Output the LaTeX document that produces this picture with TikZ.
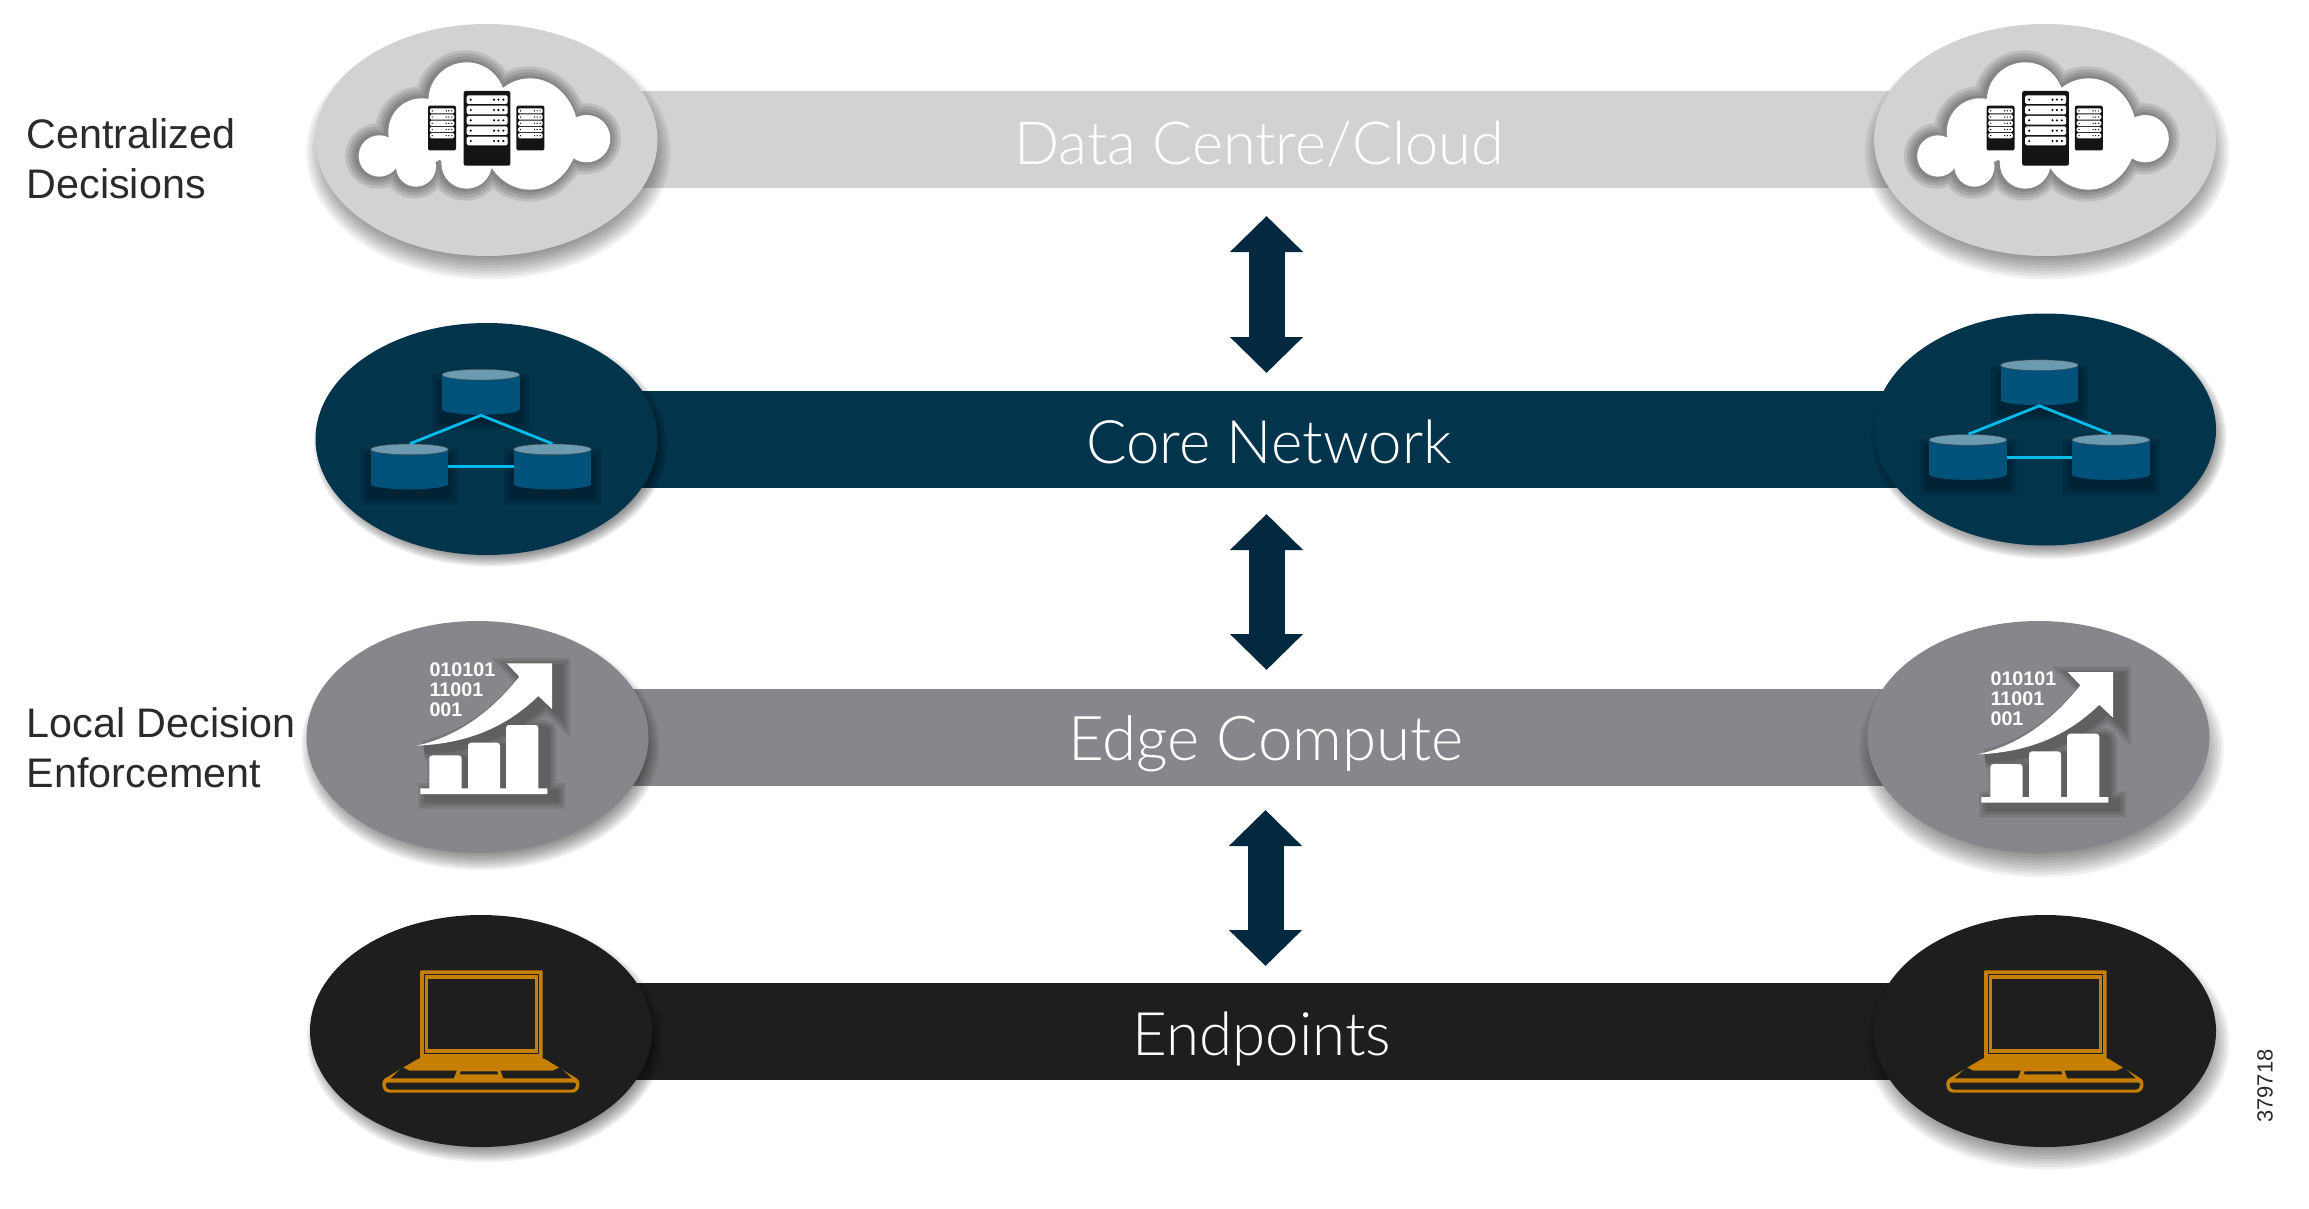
\documentclass[tikz,border=0pt]{standalone}
\usepackage{fontspec}
\setmainfont{Liberation Sans}
\newfontfamily\thinfont{Lato Light}
\usetikzlibrary{shapes.geometric,arrows.meta}
\definecolor{datagray}{HTML}{D2D2D2}
\definecolor{coreblue}{HTML}{02344C}
\definecolor{edgegray}{HTML}{87878B}
\definecolor{endblack}{HTML}{1E1E1E}
\definecolor{arrowblue}{HTML}{02293F}
\definecolor{dbbody}{HTML}{00527A}
\definecolor{dbtop}{HTML}{6B9AB1}
\definecolor{dblink}{HTML}{00BCEB}
\definecolor{laptoporange}{HTML}{C67F00}
\definecolor{labelblack}{HTML}{2A2A2A}

\newcommand{\lobeblur}[4]{\foreach \i in {1,...,9}{
    \pgfmathsetmacro\grow{#4*(1-2*\i/10)}
    \fill[black, opacity=.06] ([shift={(#2,#3)}]#1) ellipse [x radius={171+\grow}, y radius={116+\grow}];}}
\newcommand{\blurpath}[3]{\foreach \w in {#2}{
    \begin{scope}[transparency group, opacity=.1]
      \path[fill=black, draw=black, line width=\w pt, shift={#3}] #1;
    \end{scope}}}
\newcommand{\cloudshape}{(268,468) circle (62) (378,500) circle (60) (395,395) circle (100)
  (530,302) circle (115) (720,402) ellipse [x radius=145, y radius=167] (890,416) circle (71)
  (530,490) circle (76) (540,400) circle (120)}
\newcommand{\chartshape}{(391,535) rectangle (772,552)
  [rounded corners=3pt] (418,536) -- (418,436) -- (515,436) -- (515,536)
  (534,536) -- (534,398) -- (630,398) -- (630,536)
  (648,536) -- (648,345) -- (745,345) -- (745,536) [sharp corners]
  (380,407) .. controls (550,400) and (660,340) .. (745,258) -- (786,297) -- (786,160)
  -- (650,160) -- (688,200) .. controls (600,310) and (500,380) .. (380,407) -- cycle}

\tikzset{
  lobe/.style={ellipse, minimum width=342pt, minimum height=232pt, inner sep=0pt},
  band/.style={line width=97pt},
  bandtext/.style={anchor=base, text=white, font=\thinfont\fontsize{#1}{60}\selectfont},
  bandtext/.default=60,
  sidetext/.style={anchor=north west, inner sep=0pt, align=left, text=labelblack,
    font=\fontsize{41.3}{50}\selectfont},
  updown/.style={arrowblue, line width=36pt,
    {Triangle[length=36pt,width=71pt]}-{Triangle[length=36pt,width=71pt]}},
  dbline/.style={draw=dblink, line width=2.8pt},
  server/.pic={
    \fill[black!92, rounded corners=2pt] (0,0) rectangle (140,224);
    \foreach \i in {0,...,4}{
      \fill[white, rounded corners=1.5pt] (9,{13+31*\i}) rectangle (132,{39+31*\i});
      \foreach \d in {21,91,104,119}
        \fill[black] (\d,{26+31*\i}) circle (3.5);
    }
  },
  cloudicon/.pic={
    \begin{scope}[shift={(-196.5,-140)}, scale=1/3]
      \blurpath{\cloudshape}{24,18,12,6}{(-4,0)}
      \fill[white] \cloudshape;
      \pic[transform shape, scale=.6] at (414,317) {server};
      \pic[transform shape] at (521,273) {server};
      \pic[transform shape, scale=.6] at (679,317) {server};
    \end{scope}
  },
  dbcyl/.pic={
    \blurpath{(-116,10) rectangle (116,118)}{20,14,8}{(0,18)}
    \fill[dbbody] (0,104) ellipse [x radius=116.5, y radius=16];
    \fill[dbbody] (-116.5,0) rectangle (116.5,104);
    \fill[dbtop, draw=black!70, line width=.4pt] (0,0) ellipse [x radius=116.5, y radius=16];
  },
  coreicon/.pic={
    \begin{scope}[shift={(-196.5,-129)}, scale=1/3]
      \pic[transform shape] at (572.5,194) {dbcyl};
      \pic[transform shape] at (358.5,418) {dbcyl};
      \pic[transform shape] at (787.5,418) {dbcyl};
      \coordinate (-apex) at (573,316);
      \coordinate (-left) at (360,401);
      \coordinate (-right) at (787,401);
      \coordinate (-midl) at (475,470);
      \coordinate (-midr) at (671,470);
      \draw[dbline] (-left) -- (-apex) -- (-right);
      \draw[dbline] (-midl) -- (-midr);
    \end{scope}
  },
  charticon/.pic={
    \begin{scope}[shift={(-187.5,-127)}, scale=1/3]
      \blurpath{\chartshape}{20,14,8}{(24,14)}
      \fill[white] \chartshape;
      \node[anchor=north west, inner sep=0pt, align=left, text=white,
        font=\bfseries\fontsize{19.7}{20}\selectfont] (-bits) at (418,158) {010101\\11001\\001};
    \end{scope}
  },
  laptopicon/.pic={
    \begin{scope}[shift={(-191,-121)}, scale=1/3]
      \fill[laptoporange, rounded corners=1pt] (390,181) rectangle (758,445);
      \fill[endblack] (401,192) rectangle (748,432);
      \fill[laptoporange] (405,196) rectangle (745,429);
      \fill[endblack] (414,206) rectangle (736,418);
      \fill[laptoporange, rounded corners=3pt] (390,443) -- (758,443) -- (868,510) -- (868,535)
        -- (856,548) -- (289,548) -- (277,535) -- (277,510) -- cycle;
      \fill[endblack] (337,472) -- (358,482) -- (500,482) -- (491,505) -- (302,505) -- cycle;
      \fill[endblack] (632,482) -- (788,482) -- (810,472) -- (845,505) -- (640,505) -- cycle;
      \fill[endblack] (512,484) -- (622,484) -- (624,493) -- (510,493) -- cycle;
      \fill[endblack, rounded corners=2pt] (287,518) -- (858,518) -- (858,530) -- (851,539)
        -- (294,539) -- (287,530) -- cycle;
    \end{scope}
  },
}

\begin{document}
\begin{tikzpicture}[x=1pt, y=-1pt]
  \useasboundingbox (0,0) rectangle (2309,1209);

  % lobe centres
  \coordinate (dataA) at (486.5,140);
  \coordinate (dataB) at (2045,140);
  \coordinate (coreA) at (486.5,439);
  \coordinate (coreB) at (2045,429.5);
  \coordinate (edgeA) at (477.5,737);
  \coordinate (edgeB) at (2038.5,737);
  \coordinate (endA) at (481,1031);
  \coordinate (endB) at (2045,1031);

  % bands
  \draw[band, datagray] (dataA) -- (dataB);
  \draw[band, coreblue] (coreA) -- (coreA -| coreB);
  \draw[band, edgegray] (edgeA) -- (edgeB);
  \draw[band, endblack] (endA) -- (endB);

  \node[bandtext=59.5] (dataText) at (1259,165) {Data Centre/Cloud};
  \node[bandtext] (coreText) at (1269,463) {Core Network};
  \node[bandtext=61.8] (edgeText) at (1266,760) {Edge Compute};
  \node[bandtext] (endText) at (1262,1055) {Endpoints};

  % shadows
  \lobeblur{dataA}{2}{12}{14}
  \lobeblur{dataB}{2}{12}{14}
  \lobeblur{coreA}{4}{6}{7}
  \lobeblur{coreB}{4}{7}{8}
  \lobeblur{edgeA}{3}{9}{10}
  \lobeblur{edgeB}{3}{13}{14}
  \lobeblur{endA}{4}{8}{9}
  \lobeblur{endB}{3}{12}{13}

  % lobes
  \node[lobe, fill=datagray] (dataL) at (dataA) {};
  \node[lobe, fill=datagray] (dataR) at (dataB) {};
  \node[lobe, fill=coreblue] (coreL) at (coreA) {};
  \node[lobe, fill=coreblue] (coreR) at (coreB) {};
  \node[lobe, fill=edgegray] (edgeL) at (edgeA) {};
  \node[lobe, fill=edgegray] (edgeR) at (edgeB) {};
  \node[lobe, fill=endblack] (endL) at (endA) {};
  \node[lobe, fill=endblack] (endR) at (endB) {};

  % icons
  \pic (cloudL) at (dataA) {cloudicon};
  \pic (cloudR) at (dataB) {cloudicon};
  \pic (netL) at (coreA) {coreicon};
  \pic (netR) at (coreB) {coreicon};
  \pic (chartL) at (edgeA) {charticon};
  \pic (chartR) at ([yshift=-8.7pt]edgeB) {charticon};
  \pic (laptopL) at (endA) {laptopicon};
  \pic (laptopR) at (endB) {laptopicon};

  % arrows
  \coordinate (upA) at (1266.5,216);
  \coordinate (downA) at (1266.5,373);
  \coordinate (upB) at (1266.5,514);
  \coordinate (downB) at (1266.5,670);
  \coordinate (upC) at (1265.5,810);
  \coordinate (downC) at (1265.5,966);
  \draw[updown] (upA) -- (downA);
  \draw[updown] (upB) -- (downB);
  \draw[updown] (upC) -- (downC);

  \node[sidetext] (topSide) at (26.5,118) {Centralized\\Decisions};
  \node[sidetext] (lowSide) at (26.5,707.5) {Local Decision\\Enforcement};
  \node[rotate=90, inner sep=0pt, text=labelblack, font=\fontsize{22}{22}\selectfont] (figNo) at (2265,1086) {379718};
\end{tikzpicture}
\end{document}
